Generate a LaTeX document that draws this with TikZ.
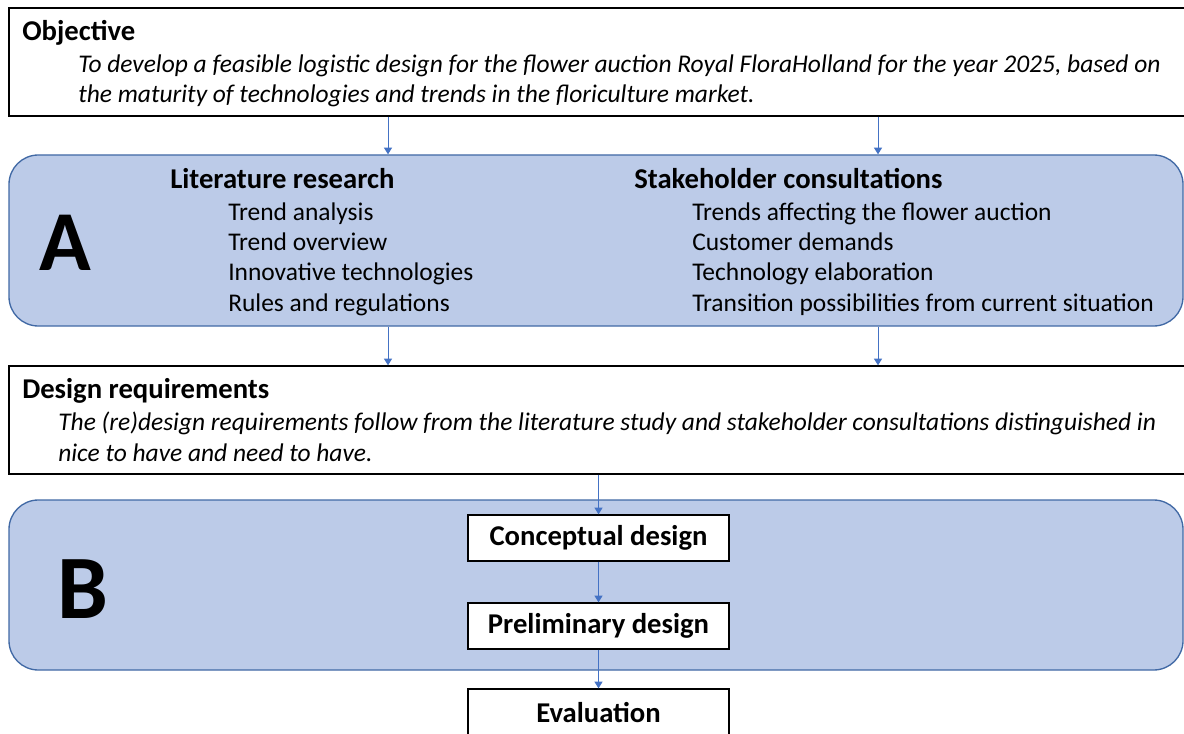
\documentclass[tikz,border=0pt]{standalone}
\usepackage{fontspec}
\setmainfont{Carlito}
\usetikzlibrary{arrows.meta,fit,positioning}

\definecolor{phasefill}{RGB}{188,203,232}
\definecolor{phaseline}{RGB}{65,105,165}
\definecolor{linkblue}{RGB}{68,114,196}

\begin{document}
\begin{tikzpicture}[x=0.75pt,y=-0.75pt]

\tikzset{plain/.style={draw=black, line width=1pt, inner sep=0pt, fill=white},
phase/.style={draw=phaseline, line width=1pt, fill=phasefill, rounded corners=22pt, inner sep=0pt},
link/.style={draw=linkblue, line width=0.75pt, -{Triangle[width=6pt,length=5pt]}},
txt/.style={anchor=base west, inner sep=0pt, font=\fontsize{19.1}{23}\selectfont},
head/.style={txt, font=\fontsize{21.5}{25}\selectfont\bfseries},
note/.style={txt, font=\fontsize{19.1}{23}\selectfont\itshape}}

\useasboundingbox (0,0) rectangle (1184,734);
\fill[white] (0,0) rectangle (1184,734);
\clip (0,0) rectangle (1184,734);

%the boxes
\node[plain, fit={(9,8) (1192,116)}] (obj) {};
\node[phase, fit={(9,155) (1183,326)}] (boxA) {};
\node[plain, fit={(9,366) (1192,474)}] (req) {};
\node[phase, fit={(9,500) (1183,670)}] (boxB) {};

\node[plain, fit={(468,515) (729,561)}] (concept) {};
\node[plain, fit={(468,603) (729,649)}] (prelim) {};
\node[plain, fit={(468,689) (729,760)}] (eval) {};

%objective
\node[head] (objT) at (22,41) {Objective};
\node[note] (objL1) at (78,73) {To develop a feasible logistic design for the flower auction Royal FloraHolland for the year 2025, based on};
\node[note] (objL2) at (78,103) {the maturity of technologies and trends in the floriculture market.};

%phase A
\node[txt, font=\fontsize{64}{64}\selectfont\bfseries] (letterA) at (39,271) {A};
\node[head] (litT) at (170,189) {Literature research};
\node[head] (stakeT) at (634,189) {Stakeholder consultations};

\foreach \t [count=\i] in {Trend analysis, Trend overview, Innovative technologies, Rules and regulations}
  \node[txt] (lit\i) at (228,191+30*\i) {\t};

\foreach \t [count=\i] in {Trends affecting the flower auction, Customer demands, Technology elaboration, Transition possibilities from current situation}
  \node[txt] (stake\i) at (692,191+30*\i) {\t};

%design requirements
\node[head] (reqT) at (22,398) {Design requirements};
\node[note] (reqL1) at (58,430) {The (re)design requirements follow from the literature study and stakeholder consultations distinguished in};
\node[note] (reqL2) at (58,461) {nice to have and need to have.};

%phase B
\node[txt, font=\fontsize{68}{68}\selectfont\bfseries] (letterB) at (57,618) {B};
\node[head, anchor=center] (conceptT) at (concept.center) {Conceptual design};
\node[head, anchor=center] (prelimT) at (prelim.center) {Preliminary design};
\node[head, anchor=base] (evalT) at (598.5,722) {Evaluation};

%arrows
\coordinate (colL) at (388,0);
\coordinate (colR) at (878,0);

\foreach \c in {colL, colR}{
  \draw[link] (obj.south -| \c) -- (boxA.north -| \c);
  \draw[link] (boxA.south -| \c) -- (req.north -| \c);
}

\draw[link] (req.south -| concept.north) -- (concept.north);
\draw[link] (concept) -- (prelim);
\draw[link] (prelim) -- (eval.north);

\end{tikzpicture}
\end{document}
